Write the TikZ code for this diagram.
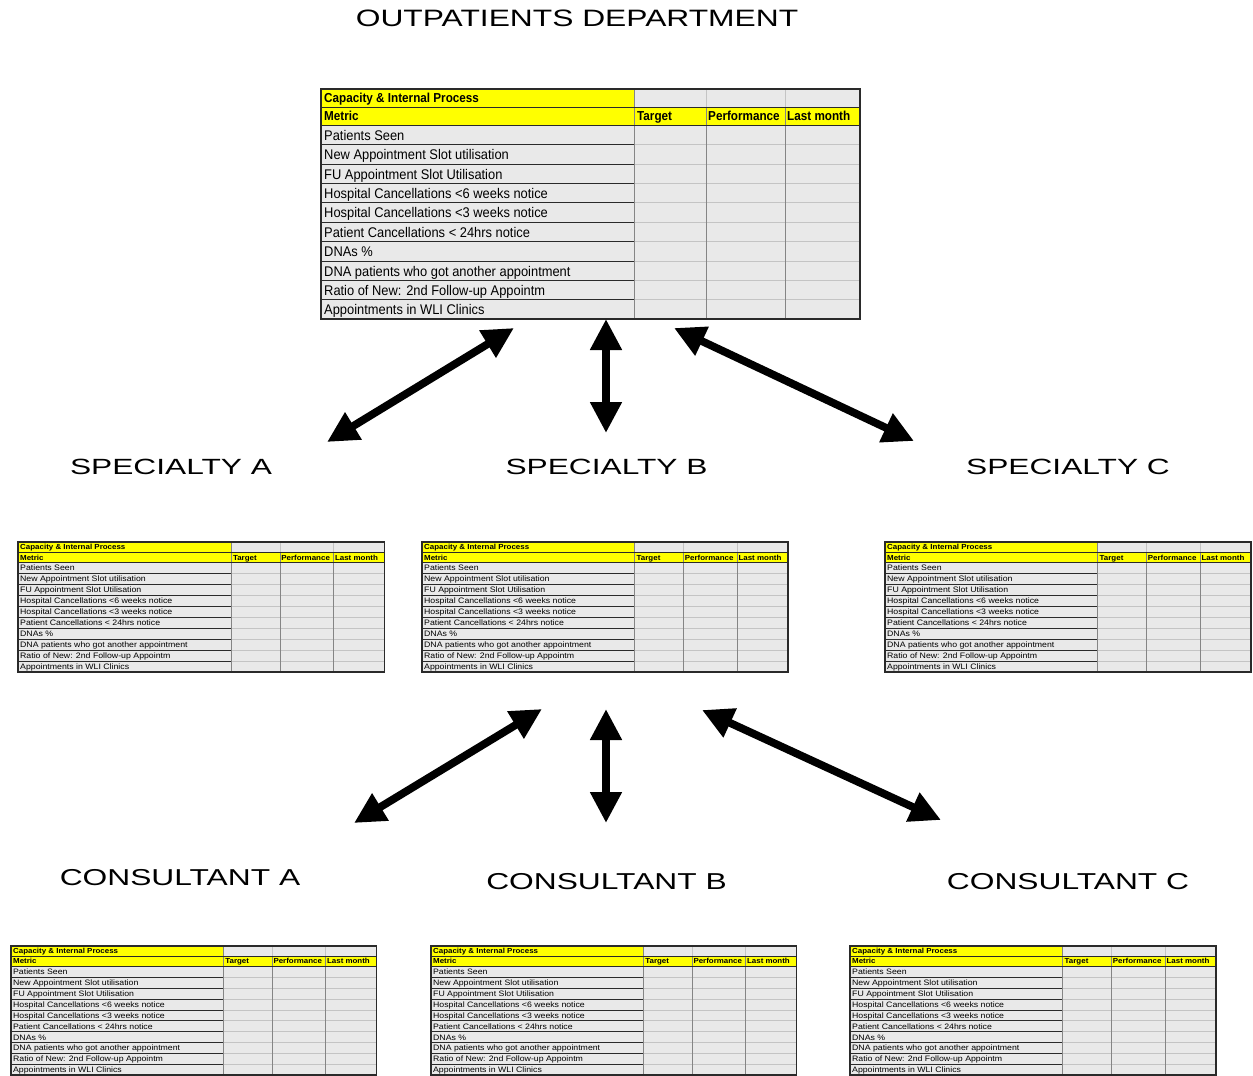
\documentclass[tikz,border=0pt]{standalone}
\usepackage{fontspec}
\setmainfont{Liberation Sans}
\usetikzlibrary{arrows.meta}
\definecolor{cellgrey}{HTML}{E9E9E9}
\definecolor{gridlight}{HTML}{C4C4C4}
\definecolor{gridmid}{HTML}{858585}
\definecolor{griddark}{HTML}{2A2A2A}
\definecolor{kpiyellow}{HTML}{FFFF00}
\tikzset{
  dblarrow/.style={line width=7.8pt,{Triangle[length=31pt,width=30pt]}-{Triangle[length=31pt,width=30pt]}},
  biglabel/.style={anchor=base, inner sep=0pt},
  tabtext/.style={anchor=base west, inner sep=0pt},
  tabborder/.style={draw=griddark, line width=1.3pt},
}
\newcommand\rowfont{\fontsize{14}{14}\selectfont}
\newcommand\hdfont{\fontsize{13}{13}\selectfont\bfseries}
\newcommand\kpitab[1]{%
  \fill[kpiyellow] (0,0) rectangle (313,18.5);
  \fill[cellgrey] (313,0) rectangle (539,18.5);
  \fill[kpiyellow] (0,18.5) rectangle (539,36);
  \fill[cellgrey] (0,36) rectangle (539,230);
  \foreach \k in {1,...,9}{
    \draw[gridlight] (313,36+19.4*\k) -- (539,36+19.4*\k);
    \draw[griddark] (0,36+19.4*\k) -- (313,36+19.4*\k);
  }
  \draw[gridlight] (385,0) -- (385,18.5) (464,0) -- (464,18.5);
  \draw[gridmid] (313,0) -- (313,230) (385,18.5) -- (385,230) (464,18.5) -- (464,230);
  \draw[griddark] (0,18.5) -- (539,18.5) (0,36) -- (539,36);
  \draw[tabborder] (0,0) rectangle (539,230);
  \node[tabtext] (#1-cap) at (3,13.9) {\hdfont\scalebox{0.9}[1]{Capacity \& Internal Process}};
  \node[tabtext] (#1-met) at (3,31.9) {\hdfont\scalebox{0.9}[1]{Metric}};
  \node[tabtext] (#1-tgt) at (316,31.9) {\hdfont\scalebox{0.9}[1]{Target}};
  \node[tabtext] (#1-prf) at (387,31.9) {\hdfont\scalebox{0.9}[1]{Performance}};
  \node[tabtext] (#1-lst) at (466,31.9) {\hdfont\scalebox{0.9}[1]{Last month}};
  \foreach \t [count=\i from 0] in {Patients Seen,New Appointment Slot utilisation,FU Appointment Slot Utilisation,Hospital Cancellations <6 weeks notice,Hospital Cancellations <3 weeks notice,Patient Cancellations < 24hrs notice,DNAs \%,DNA patients who got another appointment,Ratio of New: 2nd Follow-up Appointm,Appointments in WLI Clinics}{
    \node[tabtext] (#1-r\i) at (3,36+19.4*\i+15.3) {\rowfont\scalebox{0.92}[1]{\t}};
  }
}
\begin{document}
\begin{tikzpicture}[x=1pt,y=-1pt]
\useasboundingbox[fill=white] (0,0) rectangle (1253,1076);

% titles
\node[biglabel] (title) at (577,27) {\fontsize{23.7}{24}\selectfont\scalebox{1.34}[1]{OUTPATIENTS DEPARTMENT}};
\node[biglabel] (specA) at (171,474) {\fontsize{22}{22}\selectfont\scalebox{1.44}[1]{SPECIALTY A}};
\node[biglabel] (specB) at (606.5,474) {\fontsize{22}{22}\selectfont\scalebox{1.44}[1]{SPECIALTY B}};
\node[biglabel] (specC) at (1068,474) {\fontsize{22}{22}\selectfont\scalebox{1.44}[1]{SPECIALTY C}};
\node[biglabel] (consA) at (180,885) {\fontsize{23}{23}\selectfont\scalebox{1.38}[1]{CONSULTANT A}};
\node[biglabel] (consB) at (606.5,889) {\fontsize{23}{23}\selectfont\scalebox{1.38}[1]{CONSULTANT B}};
\node[biglabel] (consC) at (1068,889) {\fontsize{23}{23}\selectfont\scalebox{1.38}[1]{CONSULTANT C}};

% tables
\begin{scope}[shift={(321,89)}]\kpitab{opd}\end{scope}
\begin{scope}[shift={(18,542)},xscale=0.680,yscale=0.565,transform shape]\kpitab{sa}\end{scope}
\begin{scope}[shift={(422,542)},xscale=0.679,yscale=0.565,transform shape]\kpitab{sb}\end{scope}
\begin{scope}[shift={(885,542)},xscale=0.679,yscale=0.565,transform shape]\kpitab{sc}\end{scope}
\begin{scope}[shift={(11,946)},xscale=0.678,yscale=0.561,transform shape]\kpitab{ca}\end{scope}
\begin{scope}[shift={(431,946)},xscale=0.678,yscale=0.561,transform shape]\kpitab{cb}\end{scope}
\begin{scope}[shift={(850,946)},xscale=0.679,yscale=0.561,transform shape]\kpitab{cc}\end{scope}

% arrow end points
\coordinate (t1a) at (514,328); \coordinate (t1b) at (327,442);
\coordinate (t2a) at (606,319); \coordinate (t2b) at (606,433);
\coordinate (t3a) at (674,328); \coordinate (t3b) at (914,441);
\coordinate (b1a) at (542,709); \coordinate (b1b) at (354,823);
\coordinate (b2a) at (606,709); \coordinate (b2b) at (606,823);
\coordinate (b3a) at (702,710); \coordinate (b3b) at (941,820);

\draw[dblarrow] (t1a) -- (t1b);
\draw[dblarrow] (t2a) -- (t2b);
\draw[dblarrow] (t3a) -- (t3b);
\draw[dblarrow] (b1a) -- (b1b);
\draw[dblarrow] (b2a) -- (b2b);
\draw[dblarrow] (b3a) -- (b3b);
\end{tikzpicture}
\end{document}
